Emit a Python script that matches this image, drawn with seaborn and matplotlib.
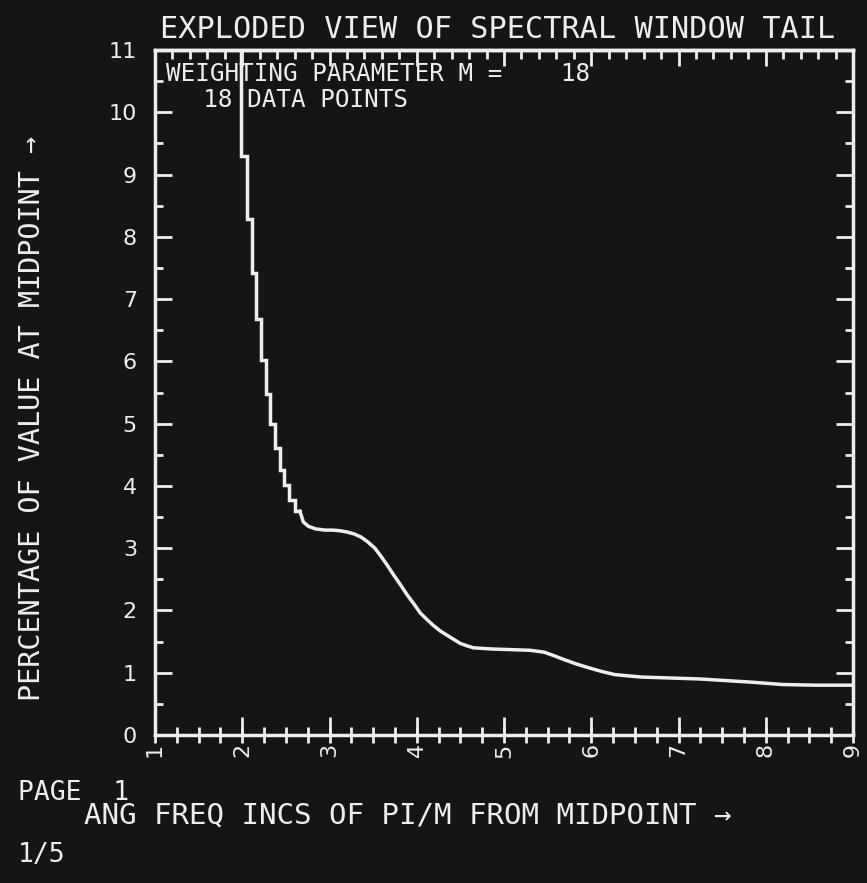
import matplotlib
matplotlib.use("Agg")
import matplotlib.pyplot as plt
import seaborn as sns
from matplotlib.ticker import MultipleLocator, FixedLocator

# ---------------- data ----------------
title_text = "EXPLODED VIEW OF SPECTRAL WINDOW TAIL"
info_line1 = "WEIGHTING PARAMETER M =    18"
info_line2 = "  18 DATA POINTS"
x_label = "ANG FREQ INCS OF PI/M FROM MIDPOINT →"
y_label = "PERCENTAGE OF VALUE AT MIDPOINT →"
page_text = "PAGE  1"
frame_text = "1/5"

x_ticks = [1, 2, 3, 4, 5, 6, 7, 8, 9]
y_ticks = [0, 1, 2, 3, 4, 5, 6, 7, 8, 9, 10, 11]

# steep part of the curve (drawn as plotter stair-steps)
step_x = [1.98, 2.06, 2.11, 2.16, 2.22, 2.27, 2.32, 2.37, 2.43, 2.48, 2.54, 2.60, 2.66]
step_y = [11.6, 9.29, 8.29, 7.42, 6.68, 6.02, 5.47, 5.00, 4.61, 4.26, 4.01, 3.78, 3.60]

# smooth tail of the curve
tail_x = [2.66, 2.70, 2.76, 2.84, 2.95, 3.04, 3.12, 3.20, 3.28, 3.36, 3.44, 3.52, 3.59,
          3.66, 3.73, 3.81, 3.89, 3.97, 4.04, 4.12, 4.19, 4.27, 4.35, 4.43, 4.50, 4.58,
          4.65, 4.76, 4.88, 5.11, 5.30, 5.46, 5.58, 5.69, 5.83, 5.97, 6.12, 6.27, 6.42,
          6.58, 7.24, 7.82, 8.20, 8.58, 9.00]
tail_y = [3.60, 3.42, 3.35, 3.31, 3.29, 3.29, 3.28, 3.26, 3.23, 3.18, 3.10, 3.00, 2.87,
          2.73, 2.58, 2.42, 2.25, 2.10, 1.96, 1.85, 1.76, 1.67, 1.60, 1.53, 1.47, 1.43,
          1.40, 1.39, 1.38, 1.37, 1.36, 1.33, 1.27, 1.21, 1.14, 1.08, 1.02, 0.97, 0.95,
          0.93, 0.90, 0.85, 0.81, 0.80, 0.80]

# ---------------- style ----------------
BG = "#151515"
FG = "#eeeeee"
sns.set_style("dark", {"axes.facecolor": BG, "figure.facecolor": BG,
                       "axes.edgecolor": FG, "text.color": FG,
                       "xtick.color": FG, "ytick.color": FG,
                       "axes.labelcolor": FG, "axes.grid": False})
plt.rcParams["font.family"] = ["DejaVu Sans Mono", "DejaVu Sans"]

W, H = 867, 883
fig = plt.figure(figsize=(W / 100, H / 100), dpi=100)
fig.patch.set_facecolor(BG)
ax = fig.add_axes([155 / W, 1 - 735 / H, (853 - 155) / W, (735 - 50) / H])
ax.set_facecolor(BG)

lw = 2.5
sns.lineplot(x=step_x, y=step_y, ax=ax, color=FG, lw=lw, drawstyle="steps-pre",
             solid_joinstyle="miter")
sns.lineplot(x=tail_x, y=tail_y, ax=ax, color=FG, lw=lw, solid_joinstyle="round",
             solid_capstyle="round")

ax.set_xlim(1, 9)
ax.set_ylim(0, 11)
ax.set_xlabel("")
ax.set_ylabel("")

for s in ax.spines.values():
    s.set_visible(True)
    s.set_color(FG)
    s.set_linewidth(2.5)

# bottom axis ticks
ax.xaxis.set_major_locator(FixedLocator(x_ticks))
ax.xaxis.set_minor_locator(MultipleLocator(0.25))
ax.xaxis.remove_overlapping_locs = False
ax.set_xticklabels([str(v) for v in x_ticks], rotation=90, family="DejaVu Sans")
ax.tick_params(axis="x", which="major", direction="in", length=13, width=2,
               bottom=True, top=False, pad=6, colors=FG, labelsize=16)
ax.tick_params(axis="x", which="minor", direction="inout", length=12, width=2,
               bottom=True, top=False, color=FG)

# left / right axis ticks
ax.yaxis.set_major_locator(FixedLocator(y_ticks))
ax.yaxis.set_minor_locator(MultipleLocator(0.5))
ax.set_yticklabels([str(v) for v in y_ticks], family="DejaVu Sans")
ax.tick_params(axis="y", which="major", direction="in", length=12.5, width=2,
               left=True, right=True, pad=13, colors=FG, labelsize=16)
ax.tick_params(axis="y", which="minor", direction="in", length=6, width=2,
               left=True, right=True, color=FG)

# top axis ticks (finer spacing)
sec = ax.secondary_xaxis("top")
sec.xaxis.set_major_locator(FixedLocator(x_ticks))
sec.xaxis.set_minor_locator(MultipleLocator(0.2))
sec.tick_params(which="major", direction="in", length=11.5, width=2, labeltop=False,
                color=FG)
sec.tick_params(which="minor", direction="in", length=6.5, width=2, color=FG)
sec.spines["top"].set_color(FG)
sec.spines["top"].set_linewidth(2.5)

# ---------------- text ----------------
mono = "DejaVu Sans Mono"
fig.text(160 / W, 1 - 30 / H, title_text, ha="left", va="center", fontsize=21.8,
         color=FG, family=mono)
fig.text(166 / W, 1 - 74 / H, info_line1, ha="left", va="center", fontsize=17.5,
         color=FG, family=mono)
fig.text(174 / W, 1 - 100 / H, info_line2, ha="left", va="center", fontsize=17.5,
         color=FG, family=mono)
fig.text(84 / W, 1 - 816 / H, x_label, ha="left", va="center", fontsize=21,
         color=FG, family=[mono, "DejaVu Sans"])
fig.text(32 / W, 1 - 418 / H, y_label, ha="center", va="center", rotation=90,
         fontsize=20.5, color=FG, family=[mono, "DejaVu Sans"])
fig.text(18 / W, 1 - 793 / H, page_text, ha="left", va="center", fontsize=19,
         color=FG, family=mono)
fig.text(18 / W, 1 - 855 / H, frame_text, ha="left", va="center", fontsize=19,
         color=FG, family=mono)

fig.savefig("out.png", dpi=100, facecolor=BG)
